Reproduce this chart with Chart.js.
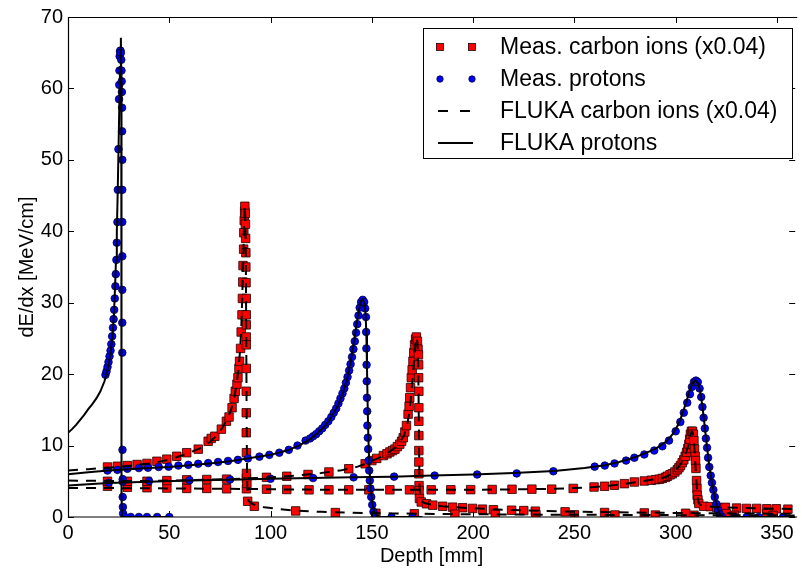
<!DOCTYPE html>
<html>
<head>
<meta charset="utf-8">
<title>dE/dx vs depth</title>
<script src="https://cdn.jsdelivr.net/npm/chart.js@4.4.0/dist/chart.umd.min.js"></script>
<style>
  html, body { margin: 0; padding: 0; background: #fff; }
  canvas { display: block; }
</style>
</head>
<body>
<canvas id="braggChart" width="802" height="570"></canvas>
<script>
// depth-dose curves, each point is [depth in mm, dE/dx in MeV/cm]
// carbon values are already scaled by 0.04

// --- measured carbon ions (three energies)
const measCarbonA = [[19.5,7.0],[24.4,7.1],[29.3,7.2],[34.1,7.35],[39,7.5],[43.9,7.8],[48.8,8.1],[53.7,8.5],[58.6,9.0],[64.3,9.5],[69.2,10.6],[70.7,11.0],[72.5,11.3],[75.7,12.3],[78.2,13.4],[79.5,14.0],[81,15.3],[82,16.6],[82.6,17.6],[83.4,18.6],[83.9,19.5],[84.4,20.8],[84.7,21.8],[85.2,23.6],[85.5,25.9],[85.9,28.3],[86.1,30.6],[86.3,32.9],[86.4,35.2],[86.7,37.5],[86.8,39.8],[87.0,41.5],[87.2,42.8],[87.3,43.5],[87.5,42.5],[87.6,41.0],[87.7,39.0],[87.8,37.0],[87.8,35.0],[87.9,32.8],[88.0,30.6],[88.0,28.3],[88.0,26.9],[88.0,25.2],[88.0,24.1],[88.0,20.8],[88.0,17.6],[88.0,14.6],[88.0,11.8],[88.1,9.0],[88.1,6.1],[88.3,4.7],[88.7,2.2],[92,1.5],[112.4,0.85],[132,0.62],[152,0.52],[171,0.45],[191,0.4],[211,0.36],[231,0.33],[250,0.3],[270,0.28],[290,0.27],[309,0.25],[329,0.24],[348,0.22]];
const measCarbonB = [[19.5,5.0],[29.3,5.0],[39,5.0],[48.8,5.1],[58.6,5.2],[68.5,5.25],[78.3,5.3],[88.1,5.4],[98,5.55],[108,5.7],[118.5,5.95],[128.8,6.3],[138.6,6.75],[146.7,7.45],[150,7.9],[152.4,8.2],[155.7,8.6],[157.5,8.85],[158.9,9.1],[160.2,9.3],[161.4,9.5],[162.6,9.85],[163.8,10.2],[164.7,10.6],[165.5,11.1],[166.3,11.9],[167.1,12.8],[167.9,14.4],[168.4,15.5],[168.7,16.7],[169.1,18.1],[169.5,19.5],[169.9,20.6],[170.3,21.8],[170.7,23.0],[171.1,24.1],[171.6,24.9],[172,25.2],[172.5,24.6],[172.8,23.5],[173.0,22.7],[173.1,21.3],[173.1,19.5],[173.2,17.6],[173.2,15.3],[173.2,13.4],[173.2,11.4],[173.2,9.3],[173.2,7.7],[173.2,6.05],[173.3,4.4],[173.3,3.7],[173.5,2.6],[174.4,2.1],[177,1.85],[180.1,1.66],[185,1.5],[189.9,1.38],[194.8,1.3],[199.7,1.2],[204.6,1.1],[210,1.02],[219,0.95],[225,0.9],[230.7,0.82],[245.4,0.72],[264.9,0.63],[284.5,0.57],[304.9,0.52],[325,0.48],[345,0.45]];
const measCarbonC = [[19.5,4.3],[29.3,4.15],[39,4.1],[48.8,4.05],[58.6,4.0],[68.5,4.0],[78.3,3.95],[88.1,3.95],[98,3.9],[108,3.85],[119,3.8],[128.8,3.8],[138.6,3.8],[148.5,3.8],[158.9,3.8],[168.6,3.8],[179.3,3.8],[189,3.82],[198.8,3.83],[209.4,3.85],[219.2,3.88],[229,3.9],[238.8,3.9],[249.4,4.0],[259.7,4.2],[264.9,4.3],[269.8,4.45],[274.7,4.67],[279.6,4.9],[284.5,5.04],[288,5.15],[290.2,5.23],[292,5.3],[293.4,5.4],[295,5.55],[295.9,5.7],[297.2,5.9],[298.3,6.05],[299.6,6.3],[300.8,6.6],[301.6,6.9],[302.4,7.2],[303.2,7.6],[304,8.0],[304.7,8.5],[305.4,9.06],[306,9.6],[306.5,10.2],[306.9,10.9],[307.3,11.6],[307.8,12.0],[308.3,12.0],[308.7,11.6],[309,10.7],[309.3,9.5],[309.6,8.5],[309.8,7.9],[310,6.8],[310.3,5.1],[310.5,4.0],[310.6,3.05],[311,2.4],[311.4,1.9],[313.8,1.5],[317,1.45],[320.3,1.35],[324.5,1.35],[330.1,1.25],[335,1.2],[340,1.2],[345,1.15],[349.7,1.15],[355.4,1.1]];

// --- measured protons (three energies)
const measProtonA = [[18.5,19.9],[19.0,20.4],[19.5,21.0],[20.0,21.7],[20.5,22.5],[21.0,23.3],[21.4,24.2],[21.8,25.3],[22.2,26.5],[22.5,27.7],[22.8,29.0],[23.1,30.6],[23.4,32.3],[23.6,34.0],[23.9,36.0],[24.1,38.4],[24.4,41.3],[24.6,45.8],[24.9,51.5],[25.2,58.5],[25.3,60.5],[25.4,62.5],[25.5,64.5],[25.7,65.2],[25.9,65.3],[26.1,65.0],[26.3,64.0],[26.4,62.5],[26.5,61.0],[26.6,59.5],[26.7,57.3],[26.7,54.0],[26.8,50.0],[26.8,45.8],[26.8,41.3],[26.8,36.5],[26.8,31.8],[26.8,27.2],[26.8,23.0],[26.9,9.4],[27.0,5.3],[27.0,2.8],[27.1,1.4],[27.2,0.5],[28,0],[31,0],[35,0],[39,0],[44,0],[50,0]];
const measProtonB = [[19.5,6.5],[24.4,6.6],[29.3,6.75],[35,6.85],[39.5,6.9],[44.8,7.0],[49.7,7.05],[54.5,7.2],[59.4,7.3],[64.3,7.45],[69.2,7.55],[74.1,7.7],[79,7.85],[83.9,8.0],[88.8,8.2],[94.5,8.45],[99.4,8.7],[104.3,9.0],[109,9.4],[113.3,10.0],[117.3,10.7],[119.5,11.0],[121,11.3],[122.5,11.6],[124,12.0],[125.5,12.4],[127,12.9],[128.5,13.4],[130,14.0],[131.2,14.6],[132.4,15.2],[133.5,15.9],[134.5,16.6],[135.5,17.3],[136.4,18.0],[137.2,18.8],[138,19.6],[138.8,20.5],[139.5,21.4],[140.2,22.4],[140.9,23.5],[141.6,24.6],[142.2,25.8],[142.8,27.0],[143.4,28.2],[144,29.3],[144.7,30.1],[145.5,30.4],[146.2,30.1],[146.7,29.2],[147.1,28.0],[147.2,25.9],[147.3,23.6],[147.4,21.3],[147.5,19.0],[147.6,16.7],[147.7,14.8],[147.8,12.8],[148,11.1],[148.2,9.5],[148.4,7.9],[148.7,6.5],[149,5.1],[149.3,4.0],[149.7,2.8],[150.2,1.7],[150.8,0.74],[151.5,0.05],[159.7,0],[170,0]];
const measProtonC = [[20,4.8],[27,4.95],[40,5.05],[60,5.15],[80,5.25],[100,5.35],[121,5.45],[141,5.55],[161,5.65],[181,5.8],[202,5.95],[221.5,6.1],[239.6,6.4],[260,7.05],[265,7.2],[269.8,7.5],[275.5,7.9],[279.6,8.3],[284.5,8.75],[289.4,9.3],[293.4,9.9],[296.7,10.7],[300,12.0],[302.3,13.3],[304,14.6],[305.7,16.0],[307,17.2],[308,18.2],[309,18.9],[310,19.1],[310.9,18.9],[311.8,18.0],[312.6,16.8],[313.2,15.4],[313.8,13.9],[314.4,12.4],[314.9,11.0],[315.5,9.7],[316,8.3],[316.6,7.0],[317.3,5.8],[317.9,4.8],[318.6,3.8],[319.3,2.8],[320.1,1.8],[320.9,1.0],[321.8,0.35],[323,0],[329,0],[335,0],[341,0],[347,0],[353,0]];

// --- FLUKA simulation, carbon ions
const flukaCarbonA = [[0,6.5],[10,6.7],[20,6.9],[30,7.15],[40,7.5],[45,7.75],[50,8.05],[55,8.5],[60,9.0],[65,9.6],[70,10.5],[73,11.3],[76,12.4],[78.5,13.6],[80.5,15.0],[82,16.6],[83.2,18.5],[84.2,20.8],[85,23.5],[85.6,27],[86.1,31.5],[86.5,36],[86.9,41],[87.2,43.6],[87.5,42],[87.8,36],[88.0,25],[88.2,13],[88.4,6],[88.6,3],[89,2.3],[90.5,1.9],[93,1.6],[97,1.35],[103,1.15],[112,0.9],[125,0.72],[140,0.6],[160,0.5],[185,0.42],[215,0.36],[250,0.31],[290,0.27],[330,0.24],[359,0.22]];
const flukaCarbonB = [[0,5.1],[20,5.05],[40,5.05],[60,5.15],[80,5.3],[100,5.55],[115,5.85],[125,6.15],[135,6.55],[143,7.05],[149,7.7],[154,8.35],[158,9.0],[161.5,9.7],[164,10.5],[166,11.5],[167.3,12.7],[168.3,14.3],[169.2,16.5],[170,19],[170.8,21.8],[171.5,24.2],[172,25.2],[172.5,24.5],[172.9,21],[173.1,16],[173.3,10],[173.5,5],[173.8,3],[174.5,2.2],[176,1.95],[180,1.7],[185,1.52],[190,1.4],[195,1.3],[200,1.22],[210,1.08],[220,0.97],[235,0.85],[255,0.72],[280,0.62],[310,0.54],[340,0.48],[359,0.45]];
const flukaCarbonC = [[0,4.05],[20,4.05],[50,4.0],[80,3.95],[110,3.85],[140,3.8],[170,3.8],[200,3.82],[225,3.88],[240,3.95],[250,4.05],[260,4.2],[268,4.4],[275,4.65],[282,4.95],[288,5.2],[292,5.35],[295,5.6],[297.5,5.95],[299.5,6.35],[301.2,6.9],[302.8,7.6],[304.2,8.4],[305.4,9.2],[306.4,10.2],[307.2,11.3],[307.9,12.0],[308.5,11.8],[309,10.6],[309.5,8.5],[309.9,6.5],[310.3,4.7],[310.7,3.1],[311.2,2.1],[312,1.7],[314,1.55],[318,1.45],[325,1.35],[335,1.25],[345,1.18],[359,1.1]];

// --- FLUKA simulation, protons
const flukaProtonA = [[0,11.8],[2,12.3],[4,12.9],[6,13.6],[8,14.3],[10,15.1],[12,15.8],[14,16.6],[16,17.6],[18,19.0],[19,20.0],[20,21.3],[21,23.0],[22,25.5],[22.7,28.5],[23.2,32],[23.7,36],[24.1,40],[24.5,45],[24.9,51],[25.3,57],[25.7,63],[26.1,67.1],[26.3,62],[26.35,40],[26.4,15],[26.5,3],[26.7,0],[50,0]];
const flukaProtonB = [[0,6.0],[10,6.25],[20,6.5],[30,6.7],[40,6.85],[50,7.0],[60,7.25],[70,7.5],[80,7.8],[90,8.25],[100,8.7],[108,9.3],[114,10.0],[119,10.8],[123,11.7],[127,12.8],[130,14.0],[133,15.5],[135.5,17.2],[137.5,19.0],[139.3,21.3],[140.8,23.8],[142.2,26.5],[143.5,28.8],[144.6,30.2],[145.5,30.5],[146.3,30.0],[146.9,28.5],[147.3,25.5],[147.6,21],[147.9,16],[148.3,11],[148.8,7],[149.4,4],[150.2,2],[151.2,0.7],[152.5,0.1],[154,0],[175,0]];
const flukaProtonC = [[0,4.4],[20,4.75],[40,4.95],[60,5.1],[80,5.2],[100,5.35],[120,5.45],[140,5.55],[160,5.65],[180,5.8],[200,5.95],[220,6.15],[240,6.45],[255,6.85],[265,7.25],[272,7.7],[278,8.2],[283,8.7],[288,9.3],[292,9.9],[295.5,10.6],[298.5,11.6],[301,12.8],[303,14.2],[305,15.9],[306.8,17.6],[308.3,18.7],[309.8,19.1],[311.2,18.7],[312.3,17.3],[313.2,15.5],[314,13.5],[314.8,11.5],[315.5,9.7],[316.3,7.8],[317.1,6.2],[317.9,4.8],[318.7,3.6],[319.5,2.5],[320.3,1.5],[321.2,0.8],[322.2,0.25],[324,0],[359,0]];

// axes and legend text
const xTickValues = [0, 50, 100, 150, 200, 250, 300, 350];
const yTickValues = [0, 10, 20, 30, 40, 50, 60, 70];
const legendLabels = ['Meas. carbon ions (x0.04)', 'Meas. protons', 'FLUKA carbon ions (x0.04)', 'FLUKA protons'];

const FONT = "'Liberation Sans', Arial, sans-serif";
Chart.defaults.font.family = FONT;
Chart.defaults.color = '#000';

const toXY = arr => arr.map(([x, y]) => ({ x, y }));

function markerSet(arr, kind) {
  const carbon = kind === 'carbon';
  return {
    data: toXY(arr),
    showLine: false,
    pointStyle: carbon ? 'rect' : 'circle',
    pointRadius: carbon ? 6 : 3.8,
    pointBackgroundColor: carbon ? '#ff0000' : '#0000ff',
    pointBorderColor: carbon ? '#220000' : '#000033',
    pointBorderWidth: 0.8,
    clip: 0,
    order: carbon ? 4 : 3
  };
}

function lineSet(arr, kind) {
  const carbon = kind === 'carbon';
  return {
    data: toXY(arr),
    showLine: true,
    pointRadius: 0,
    borderColor: '#000',
    borderWidth: 2,
    borderDash: carbon ? [10, 8] : [],
    tension: 0,
    fill: false,
    clip: 0,
    order: carbon ? 2 : 1
  };
}

const datasets = [
  markerSet(measCarbonA, 'carbon'), markerSet(measCarbonB, 'carbon'), markerSet(measCarbonC, 'carbon'),
  markerSet(measProtonA, 'proton'), markerSet(measProtonB, 'proton'), markerSet(measProtonC, 'proton'),
  lineSet(flukaCarbonA, 'carbon'), lineSet(flukaCarbonB, 'carbon'), lineSet(flukaCarbonC, 'carbon'),
  lineSet(flukaProtonA, 'proton'), lineSet(flukaProtonB, 'proton'), lineSet(flukaProtonC, 'proton')
];

// box around the plot with inward ticks on all four sides
const frameTicks = {
  id: 'frameTicks',
  afterDatasetsDraw(chart) {
    const { ctx, chartArea: a, scales: { x, y } } = chart;
    const len = 6;
    ctx.save();
    ctx.strokeStyle = '#000';
    ctx.lineWidth = 1.2;
    ctx.beginPath();
    ctx.moveTo(a.left + 0.5, a.top + 0.5);
    ctx.lineTo(a.right + 2, a.top + 0.5);
    ctx.moveTo(a.left + 0.5, a.top);
    ctx.lineTo(a.left + 0.5, a.bottom);
    ctx.lineTo(a.right + 2, a.bottom);
    ctx.stroke();
    ctx.lineWidth = 1;
    ctx.beginPath();
    xTickValues.forEach(v => {
      const px = Math.round(x.getPixelForValue(v)) + 0.5;
      ctx.moveTo(px, a.bottom); ctx.lineTo(px, a.bottom - len);
      ctx.moveTo(px, a.top); ctx.lineTo(px, a.top + len);
    });
    yTickValues.forEach(v => {
      const py = Math.round(y.getPixelForValue(v)) + 0.5;
      ctx.moveTo(a.left, py); ctx.lineTo(a.left + len, py);
      ctx.moveTo(a.right, py); ctx.lineTo(a.right - len, py);
    });
    ctx.stroke();
    ctx.restore();
  }
};

// legend box, upper right
const boxLegend = {
  id: 'boxLegend',
  afterDraw(chart) {
    const { ctx } = chart;
    const left = 423, top = 28, right = 792, bottom = 158;
    const rows = [47, 79, 111, 143];
    const m1 = 440, m2 = 472, textX = 500;
    ctx.save();
    ctx.fillStyle = '#fff';
    ctx.fillRect(left, top, right - left, bottom - top);
    ctx.strokeStyle = '#000';
    ctx.lineWidth = 1;
    ctx.strokeRect(left + 0.5, top + 0.5, right - left, bottom - top);

    // carbon markers
    [m1, m2].forEach(mx => {
      ctx.fillStyle = '#ff0000';
      ctx.fillRect(mx - 3.5, rows[0] - 3.5, 7, 7);
      ctx.strokeStyle = '#220000';
      ctx.lineWidth = 0.8;
      ctx.strokeRect(mx - 3.5, rows[0] - 3.5, 7, 7);
    });
    // proton markers
    [m1, m2].forEach(mx => {
      ctx.beginPath();
      ctx.arc(mx, rows[1], 3.2, 0, Math.PI * 2);
      ctx.fillStyle = '#0000ff';
      ctx.fill();
      ctx.strokeStyle = '#000033';
      ctx.lineWidth = 0.8;
      ctx.stroke();
    });
    // dashed and solid lines
    ctx.strokeStyle = '#000';
    ctx.lineWidth = 2;
    ctx.setLineDash([10, 12]);
    ctx.beginPath();
    ctx.moveTo(m1 - 2, rows[2]); ctx.lineTo(m2 + 1, rows[2]);
    ctx.stroke();
    ctx.setLineDash([]);
    ctx.beginPath();
    ctx.moveTo(m1 - 2, rows[3]); ctx.lineTo(m2 + 1, rows[3]);
    ctx.stroke();

    ctx.fillStyle = '#000';
    ctx.font = '23px ' + FONT;
    ctx.textBaseline = 'middle';
    ctx.textAlign = 'left';
    legendLabels.forEach((t, i) => ctx.fillText(t, textX, rows[i] + 1));
    ctx.restore();
  }
};

new Chart(document.getElementById('braggChart'), {
  type: 'scatter',
  data: { datasets },
  options: {
    responsive: false,
    animation: false,
    events: [],
    layout: { padding: { top: 12, right: 0, bottom: 0, left: 0 } },
    plugins: { legend: { display: false }, tooltip: { enabled: false } },
    scales: {
      x: {
        type: 'linear',
        min: 0,
        max: 359,
        afterBuildTicks: s => { s.ticks = xTickValues.map(v => ({ value: v })); },
        afterFit: s => { s.height = 53; },
        grid: { display: false, drawTicks: false },
        border: { display: false },
        ticks: { font: { size: 20 }, padding: 4, maxRotation: 0, color: '#000' },
        title: { display: true, text: 'Depth [mm]', font: { size: 20 }, padding: { top: 0, bottom: 2 }, color: '#000' }
      },
      y: {
        type: 'linear',
        min: 0,
        max: 70,
        afterBuildTicks: s => { s.ticks = yTickValues.map(v => ({ value: v })); },
        afterFit: s => { s.width = 68; },
        grid: { display: false, drawTicks: false },
        border: { display: false },
        ticks: { font: { size: 20 }, padding: 5, color: '#000' },
        title: { display: true, text: 'dE/dx [MeV/cm]', font: { size: 20 }, padding: { top: 15, bottom: 0 }, color: '#000' }
      }
    }
  },
  plugins: [frameTicks, boxLegend]
});
</script>
</body>
</html>
